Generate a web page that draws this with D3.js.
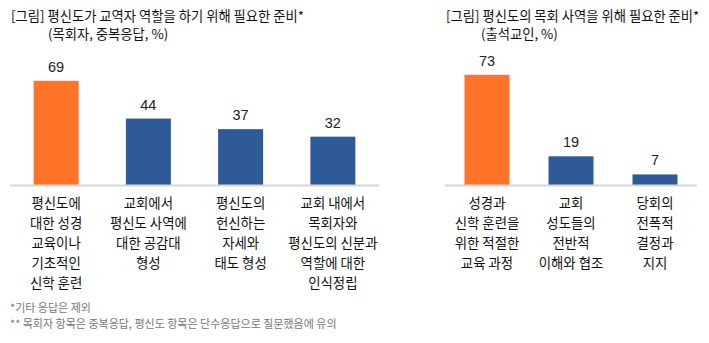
<!DOCTYPE html>
<html><head><meta charset="utf-8">
<script src="https://cdn.jsdelivr.net/npm/d3@7"></script>
<style>
body{margin:0;background:#fff;}
text{font-family:"Noto Sans CJK KR","Noto Sans",sans-serif;}
</style></head>
<body><svg id="c" width="709" height="343"></svg>
<script>
const leftTitle = ["[그림] 평신도가 교역자 역할을 하기 위해 필요한 준비*", "(목회자, 중복응답, %)"];
const leftCategories = [
  ["평신도에","대한 성경","교육이나","기초적인","신학 훈련"],
  ["교회에서","평신도 사역에","대한 공감대","형성"],
  ["평신도의","헌신하는","자세와","태도 형성"],
  ["교회 내에서","목회자와","평신도의 신분과","역할에 대한","인식정립"]
];
const leftValues = [69, 44, 37, 32];
const rightTitle = ["[그림] 평신도의 목회 사역을 위해 필요한 준비*", "(출석교인, %)"];
const rightCategories = [
  ["성경과","신학 훈련을","위한 적절한","교육 과정"],
  ["교회","성도들의","전반적","이해와 협조"],
  ["당회의","전폭적","결정과","지지"]
];
const rightValues = [73, 19, 7];
const footnotes = ["*기타 응답은 제외", "** 목회자 항목은 중복응답, 평신도 항목은 단수응답으로 질문했음에 유의"];

const svg = d3.select("#c");
const baseY = 185;
const y = d3.scaleLinear().domain([0, 100]).range([baseY, baseY - 151]);
const orange = "#FF7429", blue = "#2E5B98";

function panel(cats, vals, x0, x1, barW, title, tx, tx2) {
  const x = d3.scaleBand().domain(d3.range(vals.length)).range([x0, x1]).padding(0);
  const g = svg.append("g");
  g.selectAll("rect").data(vals).enter().append("rect")
    .attr("x", (d,i) => x(i) + x.bandwidth()/2 - barW/2)
    .attr("width", barW)
    .attr("y", d => y(d))
    .attr("height", d => y(0) - y(d))
    .attr("fill", (d,i) => i === 0 ? orange : blue);
  g.selectAll("text.v").data(vals).enter().append("text")
    .attr("class","v")
    .attr("x", (d,i) => x(i) + x.bandwidth()/2)
    .attr("y", d => y(d) - 9)
    .attr("text-anchor","middle")
    .style("font-family", "'Liberation Sans', Arial, sans-serif")
    .attr("font-size", 14.5).attr("fill","#222")
    .text(d => d);
  g.append("line").attr("x1", x0).attr("x2", x1).attr("y1", baseY + 0.5).attr("y2", baseY + 0.5)
    .attr("stroke","#d6d6d6").attr("stroke-width",2);
  cats.forEach((lines, i) => {
    const t = g.append("text").attr("text-anchor","middle").attr("font-size",13.4).attr("fill","#111");
    lines.forEach((l, j) => {
      t.append("tspan").attr("x", x(i) + x.bandwidth()/2).attr("y", 208 + j*20).text(l);
    });
  });
  svg.append("text").attr("x", tx).attr("y", 21).attr("font-size",13.3).attr("fill","#111").text(title[0]);
  svg.append("text").attr("x", tx2).attr("y", 39).attr("font-size",13.3).attr("fill","#111").text(title[1]);
}
panel(leftCategories, leftValues, 10, 379, 45, leftTitle, 11, 48);
panel(rightCategories, rightValues, 445, 697, 45, rightTitle, 446, 481);

footnotes.forEach((f, i) => {
  svg.append("text").attr("x", 10).attr("y", 312 + i*16).attr("font-size",11).attr("fill","#777").text(f);
});
</script></body></html>
